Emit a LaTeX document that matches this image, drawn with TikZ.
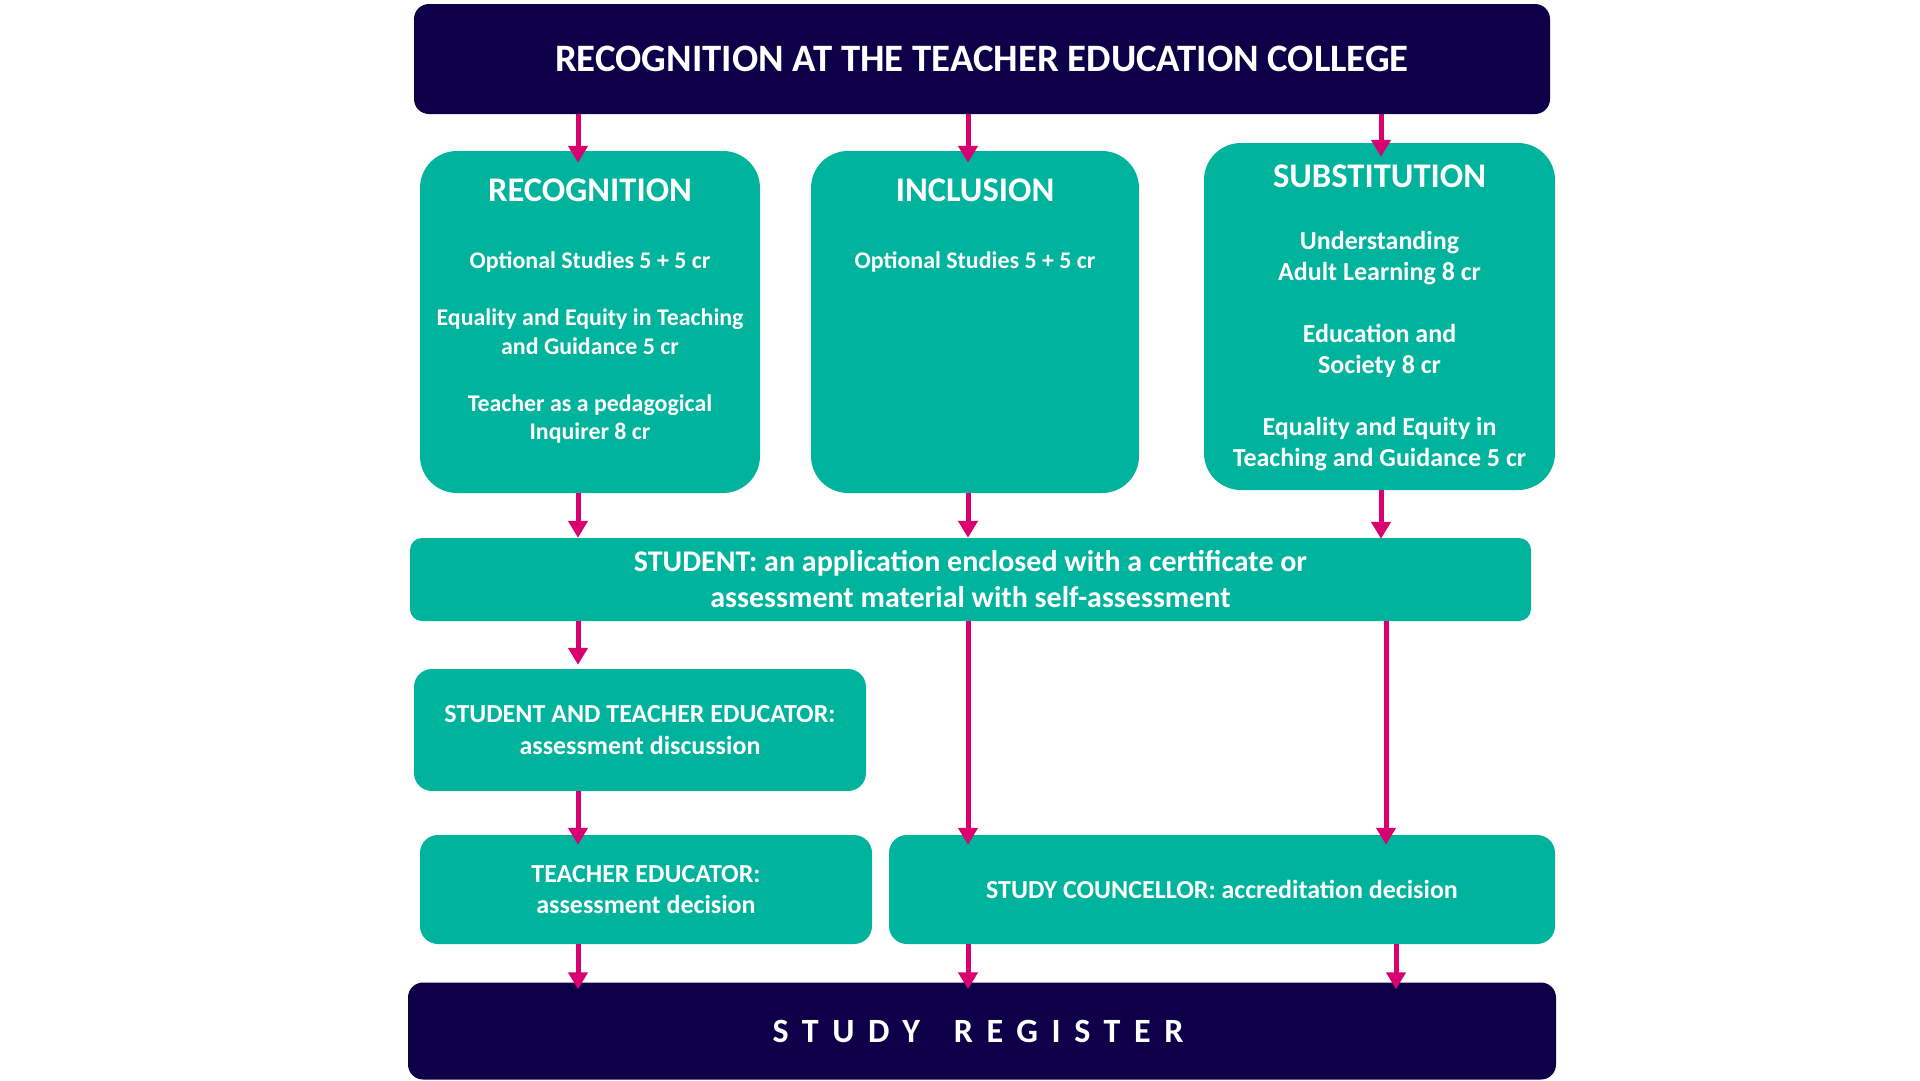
\documentclass[tikz,border=0pt]{standalone}
\usepackage{fontspec}
\setmainfont{Carlito}
\usepackage{xcolor}
\usetikzlibrary{arrows.meta}
\definecolor{navy}{HTML}{0E0048}
\definecolor{sea}{HTML}{00B39D}
\definecolor{flowpink}{HTML}{D9006F}
\tikzset{
  head/.style={fill=navy, rounded corners=15pt, inner sep=0pt, text=white},
  card/.style={fill=sea, rounded corners=37pt, inner sep=0pt},
  bar/.style={fill=sea, rounded corners=14pt, inner sep=0pt, text=white, align=center},
  hd/.style={text=white, inner sep=0pt, anchor=north, font={\bfseries\fontsize{34.6}{38}\selectfont}},
  body/.style={text=white, inner sep=0pt, anchor=north, align=center},
  flow/.style={draw=flowpink, line width=5pt,
    -{Triangle[length=17pt,width=19pt]}},
}

\begin{document}
\begin{tikzpicture}[x=1pt,y=-1pt]
  \fill[white] (0,0) rectangle (1920,1080);
  \useasboundingbox (0,0) rectangle (1920,1080);
  % columns of the arrows
  \coordinate (c1) at (578,0);
  \coordinate (c2) at (968,0);
  \coordinate (c3) at (1381,0);
  \coordinate (c4) at (1386,0);
  \coordinate (c5) at (1396,0);
  % top and bottom bars
  \node[head, minimum width=1136pt, minimum height=110pt,
    font={\bfseries\fontsize{38.8}{44}\selectfont}] (title) at (982,59)
    {RECOGNITION AT THE TEACHER EDUCATION COLLEGE};
  \node[head, minimum width=1148pt, minimum height=97pt,
    font={\bfseries\fontsize{34}{40}\selectfont\addfontfeature{LetterSpace=40}}] (reg) at (982,1031)
    {\hspace{-8pt}STUDY\hspace{1em}REGISTER};
  % three ways
  \node[card, minimum width=340pt, minimum height=342pt] (rec) at (590,322) {};
  \node[card, minimum width=328pt, minimum height=342pt] (inc) at (975,322) {};
  \node[card, minimum width=351pt, minimum height=347pt] (sub) at (1379.5,316.5) {};
  \node[hd] (rechd) at ([yshift=-27.5pt]rec.north) {RECOGNITION};
  \node[hd] (inchd) at ([yshift=-27.5pt]inc.north) {INCLUSION};
  \node[hd] (subhd) at ([yshift=-21.5pt]sub.north) {SUBSTITUTION};
  \node[body, font={\bfseries\fontsize{23.9}{28.5}\selectfont}] (rectxt) at ([yshift=-101pt]rec.north)
    {Optional Studies 5 + 5 cr\\[28.5pt]
     Equality and Equity in Teaching\\and Guidance 5 cr\\[28.5pt]
     Teacher as a pedagogical\\Inquirer 8 cr};
  \node[body, font={\bfseries\fontsize{23.9}{28.5}\selectfont}] (inctxt) at ([yshift=-101pt]inc.north)
    {Optional Studies 5 + 5 cr};
  \node[body, font={\bfseries\fontsize{26}{31}\selectfont}] (subtxt) at ([yshift=-88pt]sub.north)
    {Understanding\\Adult Learning 8 cr\\[31pt]
     Education and\\Society 8 cr\\[31pt]
     Equality and Equity in\\Teaching and Guidance 5 cr};
  % steps
  \node[bar, rounded corners=12pt, minimum width=1121pt, minimum height=83pt,
    font={\bfseries\fontsize{30}{36}\selectfont}] (stu) at (970.5,579.5)
    {STUDENT: an application enclosed with a certificate or\\assessment material with self-assessment};
  \node[bar, rounded corners=18pt, minimum width=452pt, minimum height=122pt,
    font={\bfseries\fontsize{26}{32}\selectfont}] (sate) at (640,730)
    {STUDENT AND TEACHER EDUCATOR:\\assessment discussion};
  \node[bar, rounded corners=18pt, minimum width=452pt, minimum height=109pt,
    font={\bfseries\fontsize{26}{31}\selectfont}] (te) at (646,889.5)
    {TEACHER EDUCATOR:\\assessment decision};
  \node[bar, rounded corners=18pt, minimum width=666pt, minimum height=109pt,
    font={\bfseries\fontsize{26}{31}\selectfont}] (sc) at (1222,889.5)
    {STUDY COUNCELLOR: accreditation decision};
  % arrows, the last value is how far the tip runs into the box
  \foreach \a/\b/\c/\o in {title/rec/c1/-12, title/inc/c2/-12, title/sub/c3/-14,
      rec/stu/c1/0, inc/stu/c2/0, sub/stu/c3/-1, stu/sate/c1/4, stu/sc/c2/-10, stu/sc/c4/-10,
      sate/te/c1/-10, te/reg/c1/-7, sc/reg/c2/-7, sc/reg/c5/-7}
    \draw[flow, shorten >=\o pt] (\a.south -| \c) -- (\b.north -| \c);
\end{tikzpicture}
\end{document}
